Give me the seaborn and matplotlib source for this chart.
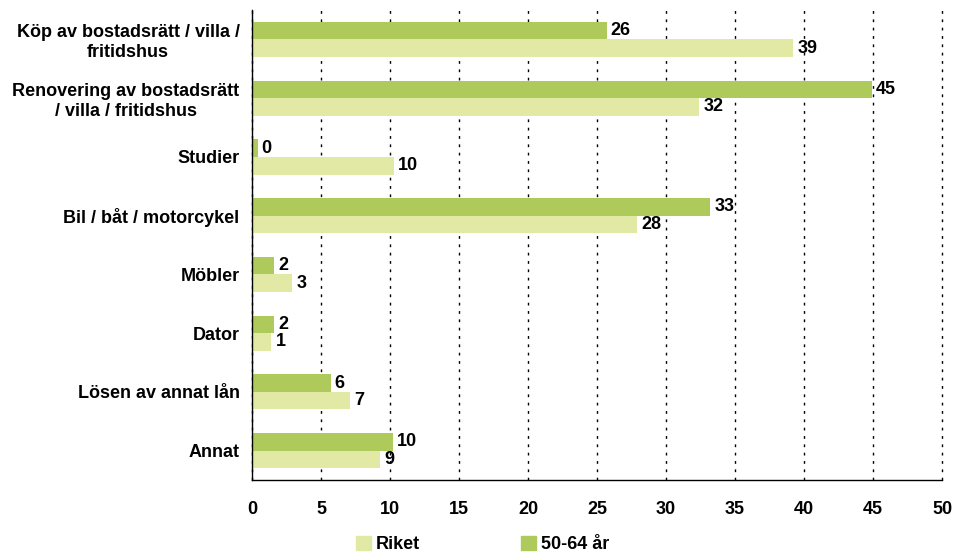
import pandas as pd
import matplotlib
matplotlib.use("Agg")
import matplotlib.pyplot as plt
import seaborn as sns
from matplotlib.patches import Patch

# --- Data ---
categories = [
    "Köp av bostadsrätt / villa /\nfritidshus",
    "Renovering av bostadsrätt\n/ villa / fritidshus",
    "Studier",
    "Bil / båt / motorcykel",
    "Möbler",
    "Dator",
    "Lösen av annat lån",
    "Annat",
]
age_50_64 = [25.7, 44.9, 0.4, 33.2, 1.6, 1.6, 5.7, 10.2]
riket = [39.2, 32.4, 10.3, 27.9, 2.9, 1.4, 7.1, 9.3]
series_names = ["50-64 år", "Riket"]
colors = {"50-64 år": "#AECA5B", "Riket": "#E2E9A5"}
x_ticks = list(range(0, 51, 5))

df = pd.DataFrame({
    "Kategori": categories * 2,
    "Andel": age_50_64 + riket,
    "Grupp": [series_names[0]] * len(categories) + [series_names[1]] * len(categories),
})

sns.set_style("white")
plt.rcParams["font.family"] = ["Liberation Sans", "DejaVu Sans"]
plt.rcParams["font.weight"] = "bold"
plt.rcParams["text.color"] = "black"
plt.rcParams["xtick.color"] = "black"
plt.rcParams["ytick.color"] = "black"

FS = 13

fig = plt.figure(figsize=(9.56, 5.58), dpi=100)
ax = fig.add_axes([0.2636, 0.1398, 0.7218, 0.8422])

sns.barplot(
    data=df, y="Kategori", x="Andel", hue="Grupp",
    hue_order=series_names, order=categories, palette=colors,
    orient="h", width=0.6, saturation=1, legend=False, linewidth=0, ax=ax,
)

# --- Value labels ---
for cont in ax.containers:
    labels = [f"{int(round(b.get_width()))}" for b in cont]
    ax.bar_label(cont, labels=labels, padding=3, fontsize=FS, fontweight="bold", color="black")

# --- Axes styling ---
ax.set_xlim(0, 50)
ax.set_ylim(7.5, -0.5)
ax.set_xticks(x_ticks)
ax.set_xticklabels([str(t) for t in x_ticks], fontsize=FS, fontweight="bold")
ax.tick_params(axis="x", direction="inout", length=8, width=1, pad=11, colors="black")
ax.set_yticks(range(len(categories)))
ax.set_yticklabels(categories, fontsize=FS, fontweight="bold", multialignment="center")
ax.tick_params(axis="y", which="major", length=0, pad=9)
ax.set_yticks([i - 0.5 for i in range(len(categories) + 1)], minor=True)
ax.tick_params(axis="y", which="minor", length=5, width=1, direction="out", colors="black")
ax.set_xlabel("")
ax.set_ylabel("")

ax.grid(axis="x", linestyle=(0, (2, 4)), color="black", linewidth=1)
ax.grid(axis="y", visible=False)
for gl in ax.get_xgridlines():
    gl.set_clip_on(False)
ax.set_axisbelow(True)
for side in ["top", "right"]:
    ax.spines[side].set_visible(False)
for side in ["left", "bottom"]:
    ax.spines[side].set_color("black")
    ax.spines[side].set_linewidth(1)

# --- Legend at the bottom ---
handles = [Patch(color=colors["Riket"], label="Riket"),
           Patch(color=colors["50-64 år"], label="50-64 år")]
fig.legend(handles=handles, loc="center", bbox_to_anchor=(0.505, 0.024), ncol=2,
           frameon=False, fontsize=FS, handlelength=0.8, handleheight=0.8,
           handletextpad=0.3, columnspacing=5.6)

fig.savefig("out.png", dpi=100)
